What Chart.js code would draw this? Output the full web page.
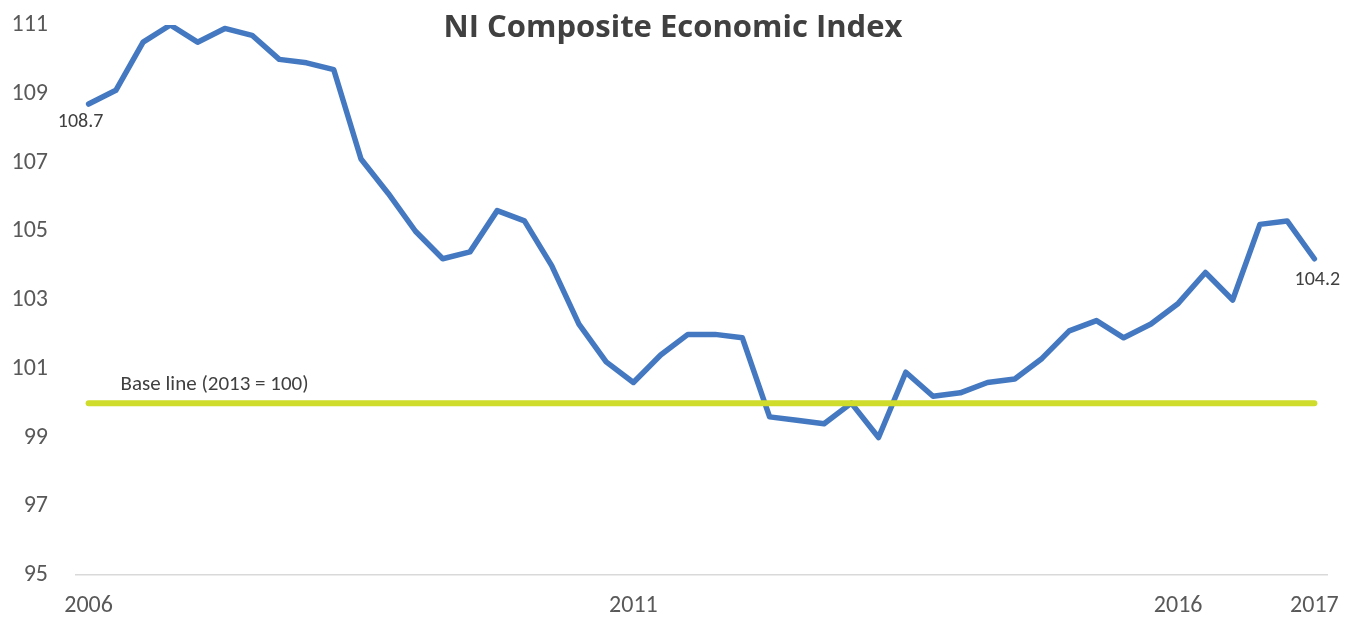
<!DOCTYPE html>
<html>
<head>
<meta charset="utf-8">
<title>NI Composite Economic Index</title>
<script src="https://cdn.jsdelivr.net/npm/chart.js@4.4.1/dist/chart.umd.min.js"></script>
<style>
  html, body { margin: 0; padding: 0; background: #fff; }
  #wrap { width: 1357px; height: 619px; position: relative; }
</style>
</head>
<body>
<div id="wrap"><canvas id="chart"></canvas></div>
<script>
// quarterly, 2006 Q1 .. 2017 Q2
const quarters = [];
for (let y = 2006; y <= 2017; y++) {
    for (let q = 1; q <= 4; q++) {
        if (y === 2017 && q > 2) break;
        quarters.push(y + ' Q' + q);
    }
}

const indexValues = [
    108.7, 109.1, 110.5, 111.0, 110.5, 110.9, 110.7, 110.0, 109.9, 109.7,
    107.1, 106.1, 105.0, 104.2, 104.4, 105.6, 105.3, 104.0, 102.3, 101.2,
    100.6, 101.4, 102.0, 102.0, 101.9, 99.6, 99.5, 99.4, 100.0, 99.0,
    100.9, 100.2, 100.3, 100.6, 100.7, 101.3, 102.1, 102.4, 101.9, 102.3,
    102.9, 103.8, 103.0, 105.2, 105.3, 104.2
];

// x tick labels shown (by category index)
const xTickLabels = { 0: '2006', 20: '2011', 40: '2016', 45: '2017' };
const yTicks = [95, 97, 99, 101, 103, 105, 107, 109, 111];

const baseValue = 100;
const baseLabel = 'Base line (2013 = 100)';
const chartTitle = 'NI Composite Economic Index';

const FONT = 'Carlito, Calibri, Lato, sans-serif';

const overlay = {
    id: 'overlay',
    afterDatasetsDraw(chart) {
        const ctx = chart.ctx;
        const x = chart.scales.x, y = chart.scales.y;
        ctx.save();
        // title (overlaid on plot like Excel)
        ctx.fillStyle = '#404040';
        ctx.font = 'bold 31px "Open Sans", sans-serif';
        ctx.textAlign = 'center';
        ctx.textBaseline = 'alphabetic';
        ctx.fillText(chartTitle, 673, 37);

        // first / last value labels
        ctx.textBaseline = 'middle';
        ctx.font = '20px ' + FONT;
        ctx.fillStyle = '#404040';
        const last = indexValues.length - 1;
        ctx.fillText(indexValues[0].toFixed(1), x.getPixelForValue(0) - 8, y.getPixelForValue(indexValues[0]) + 18);
        ctx.fillText(indexValues[last].toFixed(1), x.getPixelForValue(last) + 3, y.getPixelForValue(indexValues[last]) + 21);

        // base line label
        ctx.font = '21px ' + FONT;
        ctx.textAlign = 'left';
        ctx.fillText(baseLabel, x.getPixelForValue(0) + 32, y.getPixelForValue(baseValue) - 18);
        ctx.restore();
    }
};

new Chart(document.getElementById('chart'), {
    type: 'line',
    data: {
        labels: quarters,
        datasets: [
            {
                label: 'Base line',
                data: [
                    { x: quarters[0], y: baseValue },
                    { x: quarters[quarters.length - 1], y: baseValue }
                ],
                borderColor: '#d0dc2b',
                borderWidth: 6,
                borderCapStyle: 'round',
                pointRadius: 0,
                tension: 0
            },
            {
                label: 'NI Composite Economic Index',
                data: indexValues,
                borderColor: '#4479c1',
                borderWidth: 5.5,
                borderCapStyle: 'round',
                borderJoinStyle: 'round',
                pointRadius: 0,
                tension: 0
            }
        ]
    },
    options: {
        responsive: true,
        maintainAspectRatio: false,
        animation: false,
        layout: { padding: { top: 25, right: 29, left: 0, bottom: 0 } },
        plugins: {
            legend: { display: false },
            tooltip: { enabled: false },
            title: { display: false }
        },
        scales: {
            x: {
                offset: true,
                grid: { display: false, drawTicks: false },
                border: { display: false },
                afterFit(scale) { scale.height = 44; },
                ticks: {
                    autoSkip: false,
                    maxRotation: 0,
                    padding: 17,
                    color: '#595959',
                    font: { family: FONT, size: 24 },
                    callback: (v, i) => xTickLabels[i] || ''
                }
            },
            y: {
                min: 95,
                max: 111,
                afterFit(scale) {
                    scale.width = 75;
                    // tick padding is only meant horizontally here
                    scale.paddingTop = 0;
                    scale.paddingBottom = 0;
                },
                afterBuildTicks(scale) { scale.ticks = yTicks.map(v => ({ value: v })); },
                grid: {
                    drawTicks: false,
                    lineWidth: 1.5,
                    color: c => (c.tick && c.tick.value === 95) ? '#d9d9d9' : 'rgba(0,0,0,0)'
                },
                border: { display: false },
                ticks: {
                    padding: 27,
                    color: '#595959',
                    font: { family: FONT, size: 24 }
                }
            }
        }
    },
    plugins: [overlay]
});
</script>
</body>
</html>
